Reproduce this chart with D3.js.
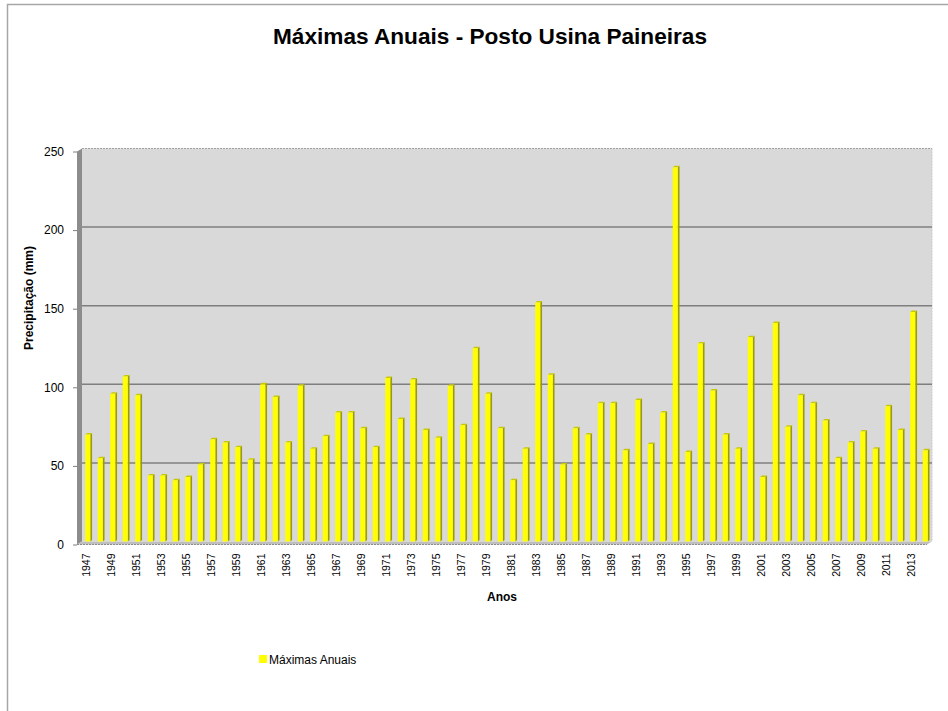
<!DOCTYPE html>
<html>
<head>
<meta charset="utf-8">
<script src="https://cdn.jsdelivr.net/npm/d3@7"></script>
<style>
  body { margin: 0; background: #fff; }
  svg { display: block; }
</style>
</head>
<body>
<div id="chart"></div>
<script>
// data
const years = d3.range(1947, 2015);
const maximas = [
  68, 53, 94, 105, 93, 42, 42, 39, 41, 49,
  65, 63, 60, 52, 100, 92, 63, 99, 59, 67,
  82, 82, 72, 60, 104, 78, 103, 71, 66, 99,
  74, 123, 94, 72, 39, 59, 152, 106, 49, 72,
  68, 88, 88, 58, 90, 62, 82, 238, 57, 126,
  96, 68, 59, 130, 41, 139, 73, 93, 88, 77,
  53, 63, 70, 59, 86, 71, 146, 58
];
const yTicks = [0, 50, 100, 150, 200, 250];
const xLabels = years.filter((y, i) => i % 2 === 0);

const width = 948, height = 711;
const narrow = "'Liberation Sans Narrow', 'Arial Narrow', 'Liberation Sans', sans-serif";

const svg = d3.select("#chart").append("svg")
  .attr("width", width)
  .attr("height", height);

// chart frame
svg.append("rect")
  .attr("x", 7.5).attr("y", 4.5)
  .attr("width", 960).attr("height", 720)
  .attr("fill", "#fff")
  .attr("stroke", "#a6a6a6")
  .attr("stroke-width", 1.5);

const x = d3.scaleBand()
  .domain(years)
  .range([82, 932])
  .padding(0);

const y = d3.scaleLinear()
  .domain([0, 250])
  .range([541.5, 148.5]);

const depth = 5;

// back wall
svg.append("rect")
  .attr("x", x.range()[0]).attr("y", y(250))
  .attr("width", x.range()[1] - x.range()[0])
  .attr("height", y(0) - y(250))
  .attr("fill", "#d9d9d9");

// top border of the back wall (dotted)
svg.append("line")
  .attr("x1", x.range()[0]).attr("x2", x.range()[1])
  .attr("y1", y(250)).attr("y2", y(250))
  .attr("stroke", "#a0a0a0")
  .attr("stroke-dasharray", "2,1");
svg.append("line")
  .attr("x1", x.range()[1]).attr("x2", x.range()[1])
  .attr("y1", y(250)).attr("y2", y(0))
  .attr("stroke", "#c8c8c8")
  .attr("stroke-dasharray", "2,1");

// gridlines
svg.append("g")
  .selectAll("line")
  .data(yTicks.filter(d => d > 0 && d < 250))
  .join("line")
    .attr("x1", x.range()[0]).attr("x2", x.range()[1])
    .attr("y1", d => y(d)).attr("y2", d => y(d))
    .attr("stroke", "#7f7f7f")
    .attr("stroke-width", 1.5);

// left side wall
svg.append("path")
  .attr("d", `M${x.range()[0] - depth},${y(250) + 3}L${x.range()[0]},${y(250)}L${x.range()[0]},${y(0)}L${x.range()[0] - depth},${y(0) + 3}Z`)
  .attr("fill", "#8c8c8c");

// floor
svg.append("path")
  .attr("d", `M${x.range()[0] - depth},${y(0) + 3}L${x.range()[0]},${y(0)}L${x.range()[1]},${y(0)}L${x.range()[1] - depth},${y(0) + 3}Z`)
  .attr("fill", "#bfbfbf");
svg.append("line")
  .attr("x1", x.range()[0] - depth).attr("x2", x.range()[1] - depth)
  .attr("y1", y(0) + 3).attr("y2", y(0) + 3)
  .attr("stroke", "#8c8c8c")
  .attr("stroke-dasharray", "2,1");

// bars (front face, side, top)
const data = years.map((yr, i) => ({ year: yr, value: maximas[i] }));
const bw = 5, side = 1.8;
const bars = svg.append("g")
  .selectAll("g")
  .data(data)
  .join("g")
    .attr("transform", d => `translate(${x(d.year) + x.bandwidth() / 2 - 3},0)`);

bars.append("path")
  .attr("d", d => `M${bw},${y(d.value)}L${bw + side},${y(d.value) - 1.5}L${bw + side},${y(0) - 1.5}L${bw},${y(0)}Z`)
  .attr("fill", "#9c9c00");
bars.append("path")
  .attr("d", d => `M0,${y(d.value)}L${side},${y(d.value) - 1.5}L${bw + side},${y(d.value) - 1.5}L${bw},${y(d.value)}Z`)
  .attr("fill", "#c8c800");
bars.append("rect")
  .attr("x", 0)
  .attr("y", d => y(d.value))
  .attr("width", bw)
  .attr("height", d => y(0) - y(d.value))
  .attr("fill", "#ffff00");

// y axis
const yAxis = svg.append("g")
  .attr("transform", `translate(${x.range()[0] - depth},3)`)
  .call(d3.axisLeft(y).tickValues(yTicks).tickSize(4).tickPadding(9))
  .call(g => g.select(".domain").remove());
yAxis.selectAll("line").attr("stroke", "#7f7f7f");
yAxis.selectAll("text")
  .attr("font-family", narrow)
  .attr("font-size", 12)
  .attr("fill", "#000");

// x axis labels
const xAxis = svg.append("g")
  .attr("transform", `translate(-2,${y(0) + 4})`)
  .call(d3.axisBottom(x).tickValues(xLabels).tickSize(0).tickPadding(0))
  .call(g => g.select(".domain").remove());
xAxis.selectAll("text")
  .attr("font-family", "'Liberation Sans', Arial, sans-serif")
  .attr("font-size", 10.5)
  .attr("fill", "#000")
  .attr("transform", "rotate(-90)")
  .attr("text-anchor", "end")
  .attr("dy", "0.35em")
  .attr("x", -8)
  .attr("y", 0);

// title
svg.append("text")
  .attr("x", 490).attr("y", 44)
  .attr("text-anchor", "middle")
  .attr("font-family", narrow)
  .attr("font-weight", "bold")
  .attr("font-size", 22)
  .attr("textLength", 434)
  .attr("lengthAdjust", "spacingAndGlyphs")
  .text("Máximas Anuais - Posto Usina Paineiras");

// axis titles
svg.append("text")
  .attr("x", 502).attr("y", 601)
  .attr("text-anchor", "middle")
  .attr("font-family", narrow)
  .attr("font-weight", "bold")
  .attr("font-size", 12)
  .text("Anos");

svg.append("text")
  .attr("transform", "translate(33,298) rotate(-90)")
  .attr("text-anchor", "middle")
  .attr("font-family", narrow)
  .attr("font-weight", "bold")
  .attr("font-size", 12)
  .text("Precipitação (mm)");

// legend
const legend = svg.append("g").attr("transform", "translate(259,655)");
legend.append("rect")
  .attr("x", 0).attr("y", 0)
  .attr("width", 8).attr("height", 8)
  .attr("fill", "#ffff00");
legend.append("text")
  .attr("x", 10).attr("y", 8.5)
  .attr("font-family", narrow)
  .attr("font-size", 12)
  .text("Máximas Anuais");
</script>
</body>
</html>
